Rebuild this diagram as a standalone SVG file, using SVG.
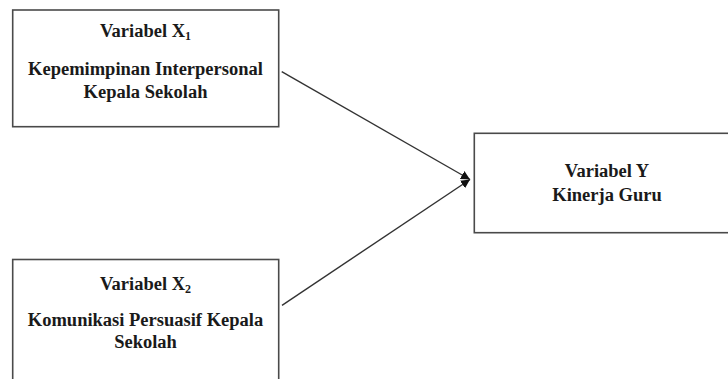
<svg xmlns="http://www.w3.org/2000/svg" width="728" height="379" viewBox="0 0 728 379">
<style>
.box{fill:#ffffff;stroke:#4a4a4a;stroke-width:1.6}
.t{font-family:"Liberation Serif","Times New Roman",serif;font-weight:bold;font-size:18.5px;fill:#1a1a1a;text-anchor:middle}
.sub{font-size:12px}
.edge{stroke:#333333;stroke-width:1.4;fill:none}
</style>
<defs>
<marker id="arr" viewBox="0 0 10 10" refX="10" refY="5" markerUnits="userSpaceOnUse" markerWidth="9" markerHeight="9" orient="auto">
<path d="M0,0 L10,5 L0,10 z" fill="#111111"/>
</marker>
</defs>
<rect width="728" height="379" fill="#ffffff"/>
<g id="connectors">
<line class="edge" x1="281.7" y1="71.7" x2="470" y2="179.5" marker-end="url(#arr)"/>
<line class="edge" x1="282" y1="305.3" x2="470" y2="179.5" marker-end="url(#arr)"/>
</g>
<g id="x1">
<rect class="box" x="12.7" y="10" width="266" height="116.7"/>
<text class="t" x="145.5" y="37">Variabel X<tspan class="sub" dy="2.5">1</tspan></text>
<text class="t" x="145.5" y="74.5">Kepemimpinan Interpersonal</text>
<text class="t" x="145.5" y="97.5">Kepala Sekolah</text>
</g>
<g id="x2">
<rect class="box" x="12.7" y="259.5" width="266" height="140"/>
<text class="t" x="145.5" y="290">Variabel X<tspan class="sub" dy="2.5">2</tspan></text>
<text class="t" x="145.5" y="325.5">Komunikasi Persuasif Kepala</text>
<text class="t" x="145.5" y="348">Sekolah</text>
</g>
<g id="y">
<rect class="box" x="474.3" y="133.3" width="280" height="99.4"/>
<text class="t" x="607" y="176.5">Variabel Y</text>
<text class="t" x="607" y="200.7">Kinerja Guru</text>
</g>
</svg>
